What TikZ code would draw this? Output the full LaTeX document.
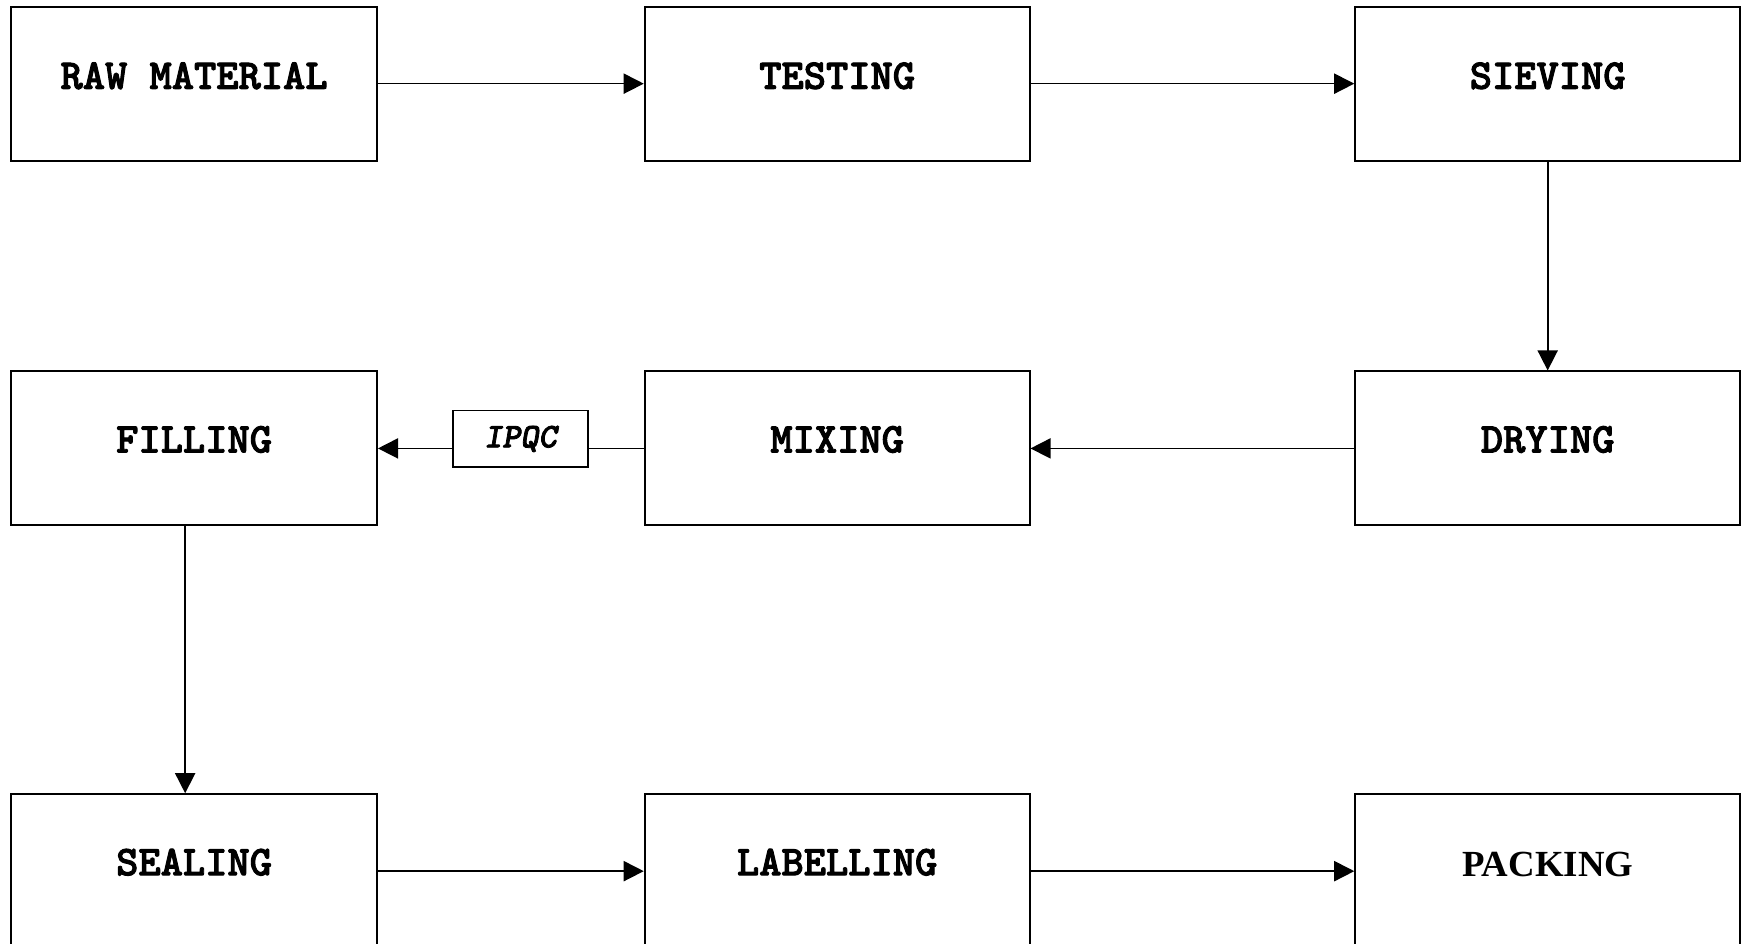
\documentclass[tikz,border=0pt]{standalone}
\usepackage{fontspec}
\newfontfamily\serifbold{Liberation Serif}
\newfontfamily\monobold[FakeBold=2.2]{lmmonolt10-bold.otf}
\newfontfamily\monoboldit[FakeBold=2.2]{lmmonolt10-boldoblique.otf}
\usetikzlibrary{arrows.meta}

\begin{document}
\begin{tikzpicture}[x=1pt,y=-1pt,
  stepbox/.style={draw, line width=1.7pt, minimum height=138pt, inner sep=0pt},
  smallbox/.style={draw, line width=1.7pt, minimum width=121pt, minimum height=51pt, inner sep=0pt},
  steptext/.style={inner sep=0pt, font=\fontsize{38}{40}\selectfont\monobold},
  flow/.style={line width=1.5pt, -{Triangle[length=18pt,width=18pt]}},
  plain/.style={line width=1.5pt}]
\clip (0,0) rectangle (1568,846);

% process boxes
\node[stepbox, minimum width=328pt] (raw)  at (174,75) {};
\node[stepbox, minimum width=345pt] (test) at (750.5,75) {};
\node[stepbox, minimum width=345pt] (siev) at (1387.5,75) {};
\node[stepbox, minimum width=328pt] (fill) at (174,402) {};
\node[stepbox, minimum width=345pt] (mix)  at (750.5,402) {};
\node[stepbox, minimum width=345pt] (dry)  at (1387.5,402) {};
\node[stepbox, minimum width=328pt] (seal) at (174,781) {};
\node[stepbox, minimum width=345pt] (lab)  at (750.5,781) {};
\node[stepbox, minimum width=345pt] (pack) at (1387.5,781) {};
\node[smallbox] (ipqc) at (466.5,393.5) {};

% box captions
\node[steptext] (rawT)  at ([yshift=7pt]raw.center)  {RAW MATERIAL};
\node[steptext] (testT) at ([yshift=7pt]test.center) {TESTING};
\node[steptext] (sievT) at ([yshift=7pt]siev.center) {SIEVING};
\node[steptext] (fillT) at ([yshift=8pt]fill.center) {FILLING};
\node[steptext] (mixT)  at ([yshift=8pt]mix.center)  {MIXING};
\node[steptext] (dryT)  at ([yshift=8pt]dry.center)  {DRYING};
\node[steptext] (sealT) at ([yshift=8pt]seal.center) {SEALING};
\node[steptext] (labT)  at ([yshift=8pt]lab.center)  {LABELLING};
\node[inner sep=0pt, font=\fontsize{33}{36}\selectfont\serifbold\bfseries] (packT) at ([yshift=6pt]pack.center) {PACKING};
\node[inner sep=0pt, font=\fontsize{31}{34}\selectfont\monoboldit] (ipqcT) at (ipqc.center) {IPQC};

% connectors
\draw[flow] (raw.east) -- (test.west);
\draw[flow] (test.east) -- (siev.west);
\draw[flow] (siev.south) -- (dry.north);
\draw[flow] (dry.west) -- (mix.east);
\draw[plain] (mix.west) -- (mix.west -| ipqc.east);
\draw[flow] (ipqc.west |- fill.east) -- (fill.east);
\draw[flow] ([xshift=-8pt]fill.south) -- ([xshift=-8pt]seal.north);
\draw[flow] (seal.east) -- (lab.west);
\draw[flow] (lab.east) -- (pack.west);
\end{tikzpicture}
\end{document}
